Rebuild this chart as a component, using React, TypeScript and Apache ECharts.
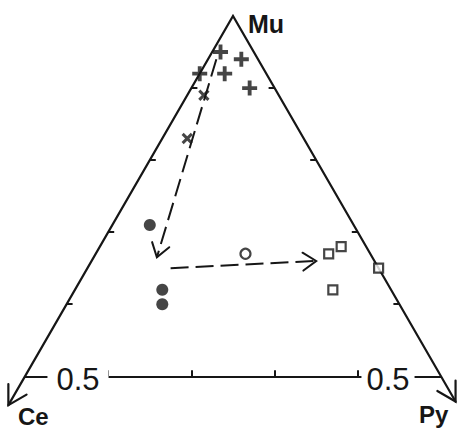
import React, { useEffect, useRef } from "react";
import * as echarts from "echarts";

const H = Math.sqrt(3) / 2;

// Ternary compositions [Mu, Ce, Py]
const plusPoints = [
  [0.95, 0.04, 0.01],
  [0.94, 0.02, 0.04],
  [0.92, 0.05, 0.03],
  [0.92, 0.08, 0.0],
  [0.9, 0.03, 0.07],
];
const crossPoints = [
  [0.89, 0.09, 0.02],
  [0.83, 0.14, 0.03],
];
const dotPoints = [
  [0.71, 0.245, 0.045],
  [0.62, 0.275, 0.105],
  [0.6, 0.285, 0.115],
];
const openCirclePoints = [[0.67, 0.15, 0.18]];
const squarePoints = [
  [0.67, 0.05, 0.28],
  [0.68, 0.03, 0.29],
  [0.62, 0.07, 0.31],
  [0.65, 0.0, 0.35],
];
const trendArrows = [
  [[0.94, 0.05, 0.01], [0.665, 0.259, 0.076]],
  [[0.65, 0.25, 0.1], [0.66, 0.07, 0.27]],
];
const apex = [1, 0, 0];
const ceAxisEnd = [0.46, 0.54, 0];
const pyAxisEnd = [0.465, 0, 0.535];
const baseLeft = [0.5, 0.5, 0];
const baseRight = [0.5, 0, 0.5];
const sideTickMu = [0.6, 0.7, 0.8, 0.9];
const baseTickPy = [0.1, 0.2, 0.3, 0.4];
const cornerLabels = ["Mu", "Ce", "Py"];
const baseLabel = "0.5";

const toXY = (p: number[]) => [p[2] + p[0] / 2, p[0] * H];

// layout constants (pixel mapping)
const W = 465;
const HT = 430;
const CX = 233;
const APEX_Y = 16;
const S = 832;
const TICK = 6 / S;

const INK = "#161616";

// chevron arrowhead points at the "to" end of a segment
const chevron = (from: number[], to: number[], lenPx: number, deg: number) => {
  const [x1, y1] = toXY(from);
  const [x2, y2] = toXY(to);
  const d = Math.hypot(x1 - x2, y1 - y2);
  const ux = (x1 - x2) / d;
  const uy = (y1 - y2) / d;
  const len = lenPx / S;
  const a = (deg * Math.PI) / 180;
  const arm = (t: number) => [
    x2 + len * (ux * Math.cos(t) - uy * Math.sin(t)),
    y2 + len * (ux * Math.sin(t) + uy * Math.cos(t)),
  ];
  return [arm(a), [x2, y2], arm(-a)];
};

export default function App() {
  const ref = useRef<HTMLDivElement>(null);
  useEffect(() => {
    if (!ref.current) return;
    const chart = echarts.init(ref.current, undefined, { renderer: "svg" });

    const poly = (pts: number[][], style: any = {}) => ({
      type: "line",
      silent: true,
      symbol: "none",
      data: pts,
      z: 3,
      lineStyle: { color: INK, width: 2, join: "miter", cap: "round", ...style },
    });

    const ticks: any[] = [];
    ticks.push([{ coord: toXY(baseLeft) }, { coord: toXY(baseRight) }]);
    sideTickMu.forEach((m) => {
      const l = toXY([m, 1 - m, 0]);
      ticks.push([{ coord: l }, { coord: [l[0] + TICK, l[1]] }]);
      const r = toXY([m, 0, 1 - m]);
      ticks.push([{ coord: r }, { coord: [r[0] - TICK, r[1]] }]);
    });
    baseTickPy.forEach((p) => {
      const b = toXY([0.5, 0.5 - p, p]);
      ticks.push([{ coord: b }, { coord: [b[0], b[1] + TICK] }]);
    });

    const scatter = (data: number[][], extra: any) => ({
      type: "scatter",
      silent: true,
      data: data.map(toXY),
      z: 5,
      ...extra,
    });

    const label = (text: string, x: number, y: number, font: string, extra: any = {}) => ({
      type: "text",
      z: 100,
      x,
      y,
      style: {
        text,
        font,
        fill: INK,
        align: "left",
        verticalAlign: "middle",
        ...extra,
      },
    });

    const labelFont = 'bold 24px "Liberation Sans", Arial, sans-serif';
    const numFont = '31px "Liberation Sans", Arial, sans-serif';

    const option: any = {
      animation: false,
      backgroundColor: "#fff",
      grid: { left: 0, right: 0, top: 0, bottom: 0, containLabel: false },
      xAxis: {
        type: "value",
        show: false,
        min: 0.5 - CX / S,
        max: 0.5 + (W - CX) / S,
      },
      yAxis: {
        type: "value",
        show: false,
        min: H - (HT - APEX_Y) / S,
        max: H + APEX_Y / S,
      },
      series: [
        poly([toXY(ceAxisEnd), toXY(apex), toXY(pyAxisEnd)], { width: 2.2 }),
        poly(chevron(apex, ceAxisEnd, 21, 30), { width: 2.2 }),
        poly(chevron(apex, pyAxisEnd, 21, 30), { width: 2.2 }),
        ...trendArrows.map((a) =>
          poly(a.map(toXY), { type: [18, 7], cap: "butt" })
        ),
        ...trendArrows.map((a) => poly(chevron(a[0], a[1], 16, 34))),
        {
          type: "line",
          data: [],
          silent: true,
          markLine: {
            silent: true,
            animation: false,
            symbol: ["none", "none"],
            label: { show: false },
            emphasis: { disabled: true },
            lineStyle: { color: INK, width: 2, type: "solid" },
            data: ticks,
          },
        },
        scatter(plusPoints, {
          symbol: "path://M0,5.2H14V8.8H0Z M5.2,0H8.8V14H5.2Z",
          symbolSize: 15,
          itemStyle: { color: INK },
        }),
        scatter(crossPoints, {
          symbol: "path://M0,5.4H14V8.6H0Z M5.4,0H8.6V14H5.4Z",
          symbolSize: 13,
          symbolRotate: 45,
          itemStyle: { color: INK },
        }),
        scatter(dotPoints, {
          symbol: "circle",
          symbolSize: 12,
          itemStyle: { color: INK },
        }),
        scatter(openCirclePoints, {
          symbol: "circle",
          symbolSize: 10,
          itemStyle: { color: "#fff", borderColor: INK, borderWidth: 2.2 },
        }),
        scatter(squarePoints, {
          symbol: "rect",
          symbolSize: 9,
          itemStyle: { color: "#fff", borderColor: INK, borderWidth: 2.2 },
        }),
      ],
      graphic: [
        label(cornerLabels[0], 248, 24, 'bold 25px "Liberation Sans", Arial, sans-serif'),
        label(cornerLabels[1], 18, 416, labelFont),
        label(cornerLabels[2], 419, 414, labelFont),
        label(baseLabel, 78, 379, numFont, {
          align: "center",
          backgroundColor: "#fff",
          padding: [0, 9],
        }),
        label(baseLabel, 388, 379, numFont, {
          align: "center",
          backgroundColor: "#fff",
          padding: [0, 5],
        }),
      ],
    };
    chart.setOption(option);
    return () => chart.dispose();
  }, []);
  return (
    <div
      ref={ref}
      style={{ position: "absolute", left: 0, top: 0, width: W, height: HT }}
    />
  );
}
